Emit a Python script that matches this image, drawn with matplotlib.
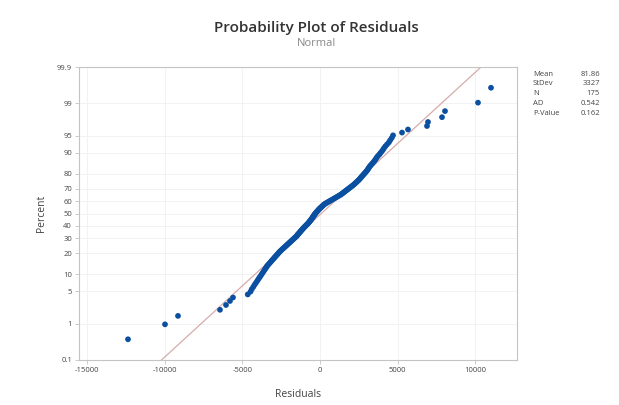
import math
import numpy as np
import matplotlib
matplotlib.use("Agg")
import matplotlib.pyplot as plt

# Residuals (sorted) and summary statistics
residuals = [
    -12355, -9974, -9138, -6435, -6049, -5792, -5598, -4650, -4471, -4391,
    -4289, -4204, -4113, -4031, -3956, -3881, -3810, -3745, -3680, -3616,
    -3558, -3503, -3442, -3395, -3321, -3257, -3187, -3126, -3062, -2999,
    -2942, -2885, -2824, -2767, -2711, -2657, -2604, -2543, -2480, -2417,
    -2353, -2290, -2230, -2170, -2110, -2054, -1994, -1937, -1881, -1824,
    -1768, -1711, -1658, -1605, -1548, -1495, -1468, -1431, -1384, -1343,
    -1299, -1263, -1219, -1179, -1139, -1099, -1058, -1015, -968, -925,
    -881, -838, -791, -751, -714, -677, -643, -609, -575, -546,
    -508, -481, -454, -420, -389, -361, -332, -304, -267, -227,
    -187, -149, -109, -73, -35, 15, 61, 111, 158, 204,
    254, 304, 376, 458, 533, 612, 691, 770, 849, 928,
    1007, 1085, 1164, 1247, 1328, 1391, 1455, 1517, 1580, 1643,
    1706, 1772, 1835, 1901, 1967, 2033, 2103, 2165, 2222, 2282,
    2338, 2398, 2458, 2512, 2562, 2613, 2663, 2713, 2768, 2821,
    2875, 2931, 2988, 3040, 3084, 3128, 3175, 3226, 3287, 3357,
    3420, 3488, 3548, 3603, 3657, 3728, 3819, 3889, 3974, 4051,
    4120, 4208, 4315, 4432, 4517, 4620, 4700, 5277, 5663, 6885,
    6950, 7851, 8044, 10167, 11004,
]
stat_names = ["Mean", "StDev", "N", "AD", "P-Value"]
stat_values = ["81.86", "3327", "175", "0.542", "0.162"]
mean_val = 81.86
sd_val = 3327.0

pct_ticks = [0.1, 1, 5, 10, 20, 30, 40, 50, 60, 70, 80, 90, 95, 99, 99.9]
pct_labels = ["0.1", "1", "5", "10", "20", "30", "40", "50", "60", "70",
              "80", "90", "95", "99", "99.9"]
x_ticks = [-15000, -10000, -5000, 0, 5000, 10000]


# Normal quantile function (Acklam's rational approximation)
_a = [-3.969683028665376e+01, 2.209460984245205e+02, -2.759285104469687e+02,
      1.383577518672690e+02, -3.066479806614716e+01, 2.506628277459239e+00]
_b = [-5.447609879822406e+01, 1.615858368580409e+02, -1.556989798598866e+02,
      6.680131188771972e+01, -1.328068155288572e+01]
_c = [-7.784894002430293e-03, -3.223964580411365e-01, -2.400758277161838e+00,
      -2.549732539343734e+00, 4.374664141464968e+00, 2.938163982698783e+00]
_d = [7.784695709041462e-03, 3.224671290700398e-01, 2.445134137142996e+00,
      3.754408661907416e+00]


def _ppf(p):
    p = min(max(p, 1e-12), 1 - 1e-12)
    plow = 0.02425
    if p < plow:
        q = math.sqrt(-2 * math.log(p))
        return ((((( _c[0]*q + _c[1])*q + _c[2])*q + _c[3])*q + _c[4])*q + _c[5]) / \
               ((((_d[0]*q + _d[1])*q + _d[2])*q + _d[3])*q + 1)
    if p > 1 - plow:
        q = math.sqrt(-2 * math.log(1 - p))
        return -((((( _c[0]*q + _c[1])*q + _c[2])*q + _c[3])*q + _c[4])*q + _c[5]) / \
                ((((_d[0]*q + _d[1])*q + _d[2])*q + _d[3])*q + 1)
    q = p - 0.5
    r = q * q
    return ((((( _a[0]*r + _a[1])*r + _a[2])*r + _a[3])*r + _a[4])*r + _a[5]) * q / \
           (((((_b[0]*r + _b[1])*r + _b[2])*r + _b[3])*r + _b[4])*r + 1)


_ppf_vec = np.vectorize(lambda v: _ppf(v / 100.0), otypes=[float])
_cdf_vec = np.vectorize(lambda z: 50.0 * (1 + math.erf(z / math.sqrt(2))), otypes=[float])


def forward(v):
    return _ppf_vec(np.asarray(v, dtype=float))


def inverse(z):
    return _cdf_vec(np.asarray(z, dtype=float))


n = len(residuals)
ranks = np.arange(1, n + 1)
percent = (ranks - 0.3) / (n + 0.4) * 100

plt.rcParams['font.family'] = ['Open Sans', 'DejaVu Sans']

fig = plt.figure(figsize=(6.19, 4.05), dpi=100)
ax = fig.add_axes([79 / 619, 1 - 360 / 405, (517 - 79) / 619, (360 - 67) / 405])

ax.set_yscale('function', functions=(forward, inverse))
ax.set_ylim(0.1, 99.9)
ax.set_xlim(-15508, 12677)

# fitted normal line
fit_p = np.array([0.1, 1, 5, 20, 50, 80, 95, 99, 99.9])
fit_x = mean_val + sd_val * forward(fit_p)
ax.plot(fit_x, fit_p, color='#d6abab', lw=0.9, zorder=2)

ax.scatter(residuals, percent, s=17, color='#0b4fa0', edgecolors='none', zorder=3)

ax.set_yticks(pct_ticks)
ax.set_yticklabels(pct_labels)
ax.yaxis.set_minor_locator(matplotlib.ticker.NullLocator())
ax.set_xticks(x_ticks)
ax.set_xticklabels([str(t) for t in x_ticks])

ax.grid(True, color='#f2f2f2', lw=0.7, zorder=0)
ax.set_axisbelow(True)
for s in ax.spines.values():
    s.set_color('#c4c4c4')
    s.set_linewidth(0.8)
ax.tick_params(axis='both', labelsize=5.5, colors='#c4c4c4', labelcolor='#444444',
               length=3, width=0.6, pad=2)

ax.set_xlabel('Residuals', fontsize=7.5, color='#444444', labelpad=11)
ax.set_ylabel('Percent', fontsize=7.5, color='#444444', labelpad=7)

fig.text(316 / 619, 1 - 28 / 405, 'Probability Plot of Residuals', ha='center',
         va='center', fontsize=11, fontweight='semibold', color='#333333')
fig.text(316 / 619, 1 - 44 / 405, 'Normal', ha='center', va='center',
         fontsize=8, color='#888888')

for k, (nm, vv) in enumerate(zip(stat_names, stat_values)):
    yy = 1 - (74 + k * 9.8) / 405
    fig.text(533 / 619, yy, nm, ha='left', va='center', fontsize=5.5, color='#444444')
    fig.text(600 / 619, yy, vv, ha='right', va='center', fontsize=5.5, color='#444444')

fig.savefig('out.png', dpi=100, facecolor='white')
